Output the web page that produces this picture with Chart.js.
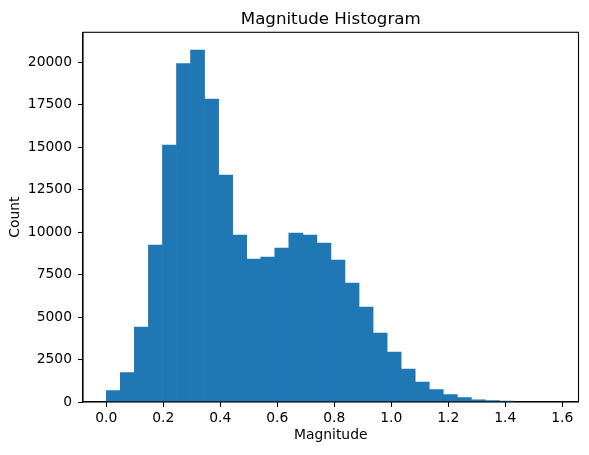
<!DOCTYPE html>
<html>
<head>
<meta charset="utf-8">
<script src="https://cdn.jsdelivr.net/npm/chart.js@4/dist/chart.umd.min.js"></script>
<style>
  html, body { margin: 0; padding: 0; background: #fff; }
  #wrap { width: 589px; height: 455px; position: relative; }
</style>
</head>
<body>
<div id="wrap"><canvas id="c" width="589" height="455"></canvas></div>
<script>
// Histogram bin left edges (Magnitude)
const binEdges = [0.0000, 0.0493, 0.0985, 0.1478, 0.1971, 0.2464, 0.2956, 0.3449,
  0.3942, 0.4434, 0.4927, 0.5420, 0.5913, 0.6405, 0.6898, 0.7391, 0.7883, 0.8376,
  0.8869, 0.9362, 0.9854, 1.0347, 1.0840, 1.1332, 1.1825, 1.2318, 1.2811, 1.3303,
  1.3796, 1.4289, 1.4782, 1.5274, 1.5767];
// Counts per bin
const counts = [665, 1725, 4416, 9244, 15131, 19918, 20724, 17839, 13365, 9832,
  8419, 8537, 9067, 9950, 9832, 9361, 8360, 7006, 5593, 4062, 2944, 1943, 1178,
  724, 430, 253, 135, 77, 55, 0, 0, 0];
const xTickValues = [0.0, 0.2, 0.4, 0.6, 0.8, 1.0, 1.2, 1.4, 1.6];
const yTickValues = [0, 2500, 5000, 7500, 10000, 12500, 15000, 17500, 20000];

const titleText = 'Magnitude Histogram';
const xLabel = 'Magnitude';
const yLabel = 'Count';

const points = counts.map((c, i) => ({
  x: (binEdges[i] + binEdges[i + 1]) / 2,
  y: c > 0 ? c : null
}));

const FONT = 'DejaVu Sans';

const boxPlugin = {
  id: 'box',
  afterDraw(chart) {
    const { ctx, chartArea: a } = chart;
    ctx.save();
    ctx.strokeStyle = '#000';
    ctx.lineWidth = 1.1;
    ctx.strokeRect(a.left, a.top, a.right - a.left, a.bottom - a.top);
    // axes title centred over the plot area
    ctx.fillStyle = '#000';
    ctx.font = '16.67px "' + FONT + '"';
    ctx.textAlign = 'center';
    ctx.textBaseline = 'alphabetic';
    ctx.fillText(titleText, (a.left + a.right) / 2, 24);
    ctx.restore();
  }
};

new Chart(document.getElementById('c'), {
  type: 'bar',
  data: {
    datasets: [{
      data: points,
      backgroundColor: '#1f77b4',
      borderWidth: 0,
      barPercentage: 1.0,
      categoryPercentage: 1.0,
      skipNull: true
    }]
  },
  options: {
    responsive: false,
    animation: false,
    devicePixelRatio: 1,
    layout: { padding: { left: 0, right: 10.5, top: 32.3, bottom: 0 } },
    plugins: {
      legend: { display: false },
      tooltip: { enabled: false },
      title: { display: false }
    },
    scales: {
      x: {
        type: 'linear',
        min: -0.0817,
        max: 1.657,
        offset: false,
        afterFit(scale) { scale.height = 53; },
        afterBuildTicks(scale) { scale.ticks = xTickValues.map(v => ({ value: v })); },
        ticks: {
          color: '#000',
          font: { family: FONT, size: 13.89 },
          padding: 3,
          maxRotation: 0,
          autoSkip: false,
          callback: v => Number(v).toFixed(1)
        },
        grid: {
          offset: false,
          drawOnChartArea: false,
          drawTicks: true,
          tickLength: 5,
          tickColor: '#000',
          tickWidth: 1.1
        },
        border: { display: true, color: '#000', width: 1.1 },
        title: {
          display: true,
          text: xLabel,
          color: '#000',
          font: { family: FONT, size: 13.89 },
          padding: { top: 0, bottom: 10.9 }
        }
      },
      y: {
        type: 'linear',
        min: 0,
        max: 21766,
        afterFit(scale) { scale.width = 83; },
        afterBuildTicks(scale) { scale.ticks = yTickValues.map(v => ({ value: v })); },
        ticks: {
          color: '#000',
          font: { family: FONT, size: 13.89 },
          padding: 6,
          autoSkip: false,
          callback: v => String(v)
        },
        grid: {
          drawOnChartArea: false,
          drawTicks: true,
          tickLength: 5,
          tickColor: '#000',
          tickWidth: 1.1
        },
        border: { display: true, color: '#000', width: 1.1 },
        title: {
          display: true,
          text: yLabel,
          color: '#000',
          font: { family: FONT, size: 13.89 },
          padding: { top: 7.5, bottom: 0 }
        }
      }
    }
  },
  plugins: [boxPlugin]
});
</script>
</body>
</html>
